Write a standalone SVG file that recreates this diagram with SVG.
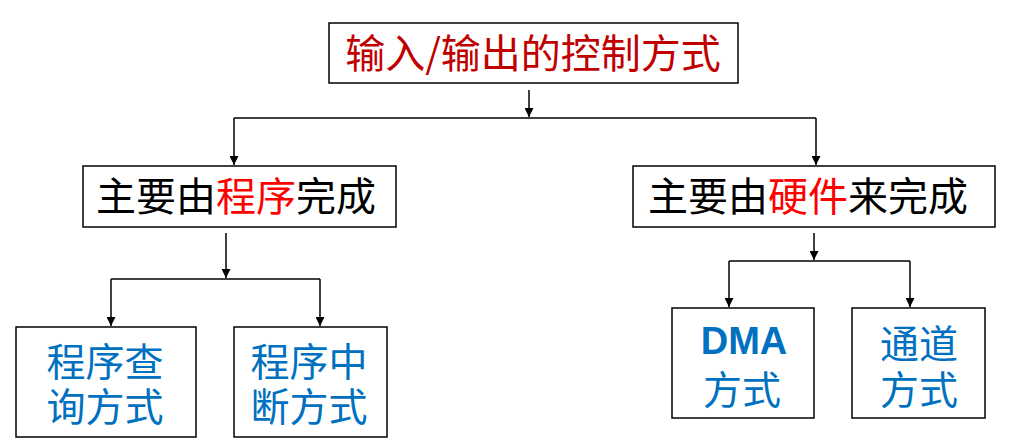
<svg xmlns="http://www.w3.org/2000/svg" width="1029" height="444" viewBox="0 0 1029 444">
<defs>
<style>
.box{fill:#fff;stroke:#000;stroke-width:1.5}
.t{font-family:"Noto Sans CJK SC","Noto Sans",sans-serif;font-size:40px;text-anchor:middle}
.s{font-size:39px}
.k{fill:#000}
.r{fill:#ff0000}
.dr{fill:#c00000}
.b{fill:#0070c0}
.c{fill:none;stroke:#000;stroke-width:1.5}
</style>
<marker id="ah" viewBox="0 0 10 10" refX="10" refY="5" markerWidth="9" markerHeight="9" markerUnits="userSpaceOnUse" orient="auto">
<path d="M0,0 L10,5 L0,10 z" fill="#000"/>
</marker>
</defs>
<rect width="1029" height="444" fill="#fff"/>
<g id="connectors">
<line class="c" x1="529" y1="90" x2="529" y2="117" marker-end="url(#ah)"/>
<polyline class="c" points="234,118 816,118"/>
<line class="c" x1="234" y1="118" x2="234" y2="165" marker-end="url(#ah)"/>
<line class="c" x1="816" y1="118" x2="816" y2="165" marker-end="url(#ah)"/>
<line class="c" x1="226" y1="233" x2="226" y2="278" marker-end="url(#ah)"/>
<polyline class="c" points="111,279 320,279"/>
<line class="c" x1="111" y1="279" x2="111" y2="326" marker-end="url(#ah)"/>
<line class="c" x1="320" y1="279" x2="320" y2="326" marker-end="url(#ah)"/>
<line class="c" x1="814" y1="233" x2="814" y2="260" marker-end="url(#ah)"/>
<polyline class="c" points="729,261 910,261"/>
<line class="c" x1="729" y1="261" x2="729" y2="307" marker-end="url(#ah)"/>
<line class="c" x1="910" y1="261" x2="910" y2="307" marker-end="url(#ah)"/>
</g>
<g id="n-root">
<rect class="box" x="329" y="23" width="409" height="60"/>
<text class="t dr" x="533" y="68">输入/输出的控制方式</text>
</g>
<g id="n-software">
<rect class="box" x="83" y="166" width="313" height="61"/>
<text class="t k" x="236" y="211">主要由<tspan class="r">程序</tspan>完成</text>
</g>
<g id="n-hardware">
<rect class="box" x="633" y="166" width="362" height="61"/>
<text class="t k" x="808" y="211">主要由<tspan class="r">硬件</tspan>来完成</text>
</g>
<g id="n-polling">
<rect class="box" x="16" y="327" width="180" height="110"/>
<text class="t s b" x="105" y="376">程序查<tspan x="105" dy="45">询方式</tspan></text>
</g>
<g id="n-interrupt">
<rect class="box" x="234" y="327" width="153" height="110"/>
<text class="t s b" x="309" y="376">程序中<tspan x="309" dy="45">断方式</tspan></text>
</g>
<g id="n-dma">
<rect class="box" x="672" y="308" width="142" height="110"/>
<text class="b" x="744" y="354" font-family="Liberation Sans, Arial, sans-serif" font-weight="bold" font-size="38" text-anchor="middle">DMA</text>
<text class="t s b" x="742" y="404">方式</text>
</g>
<g id="n-channel">
<rect class="box" x="852" y="308" width="133" height="110"/>
<text class="t s b" x="919" y="358">通道<tspan x="919" dy="46">方式</tspan></text>
</g>
</svg>
